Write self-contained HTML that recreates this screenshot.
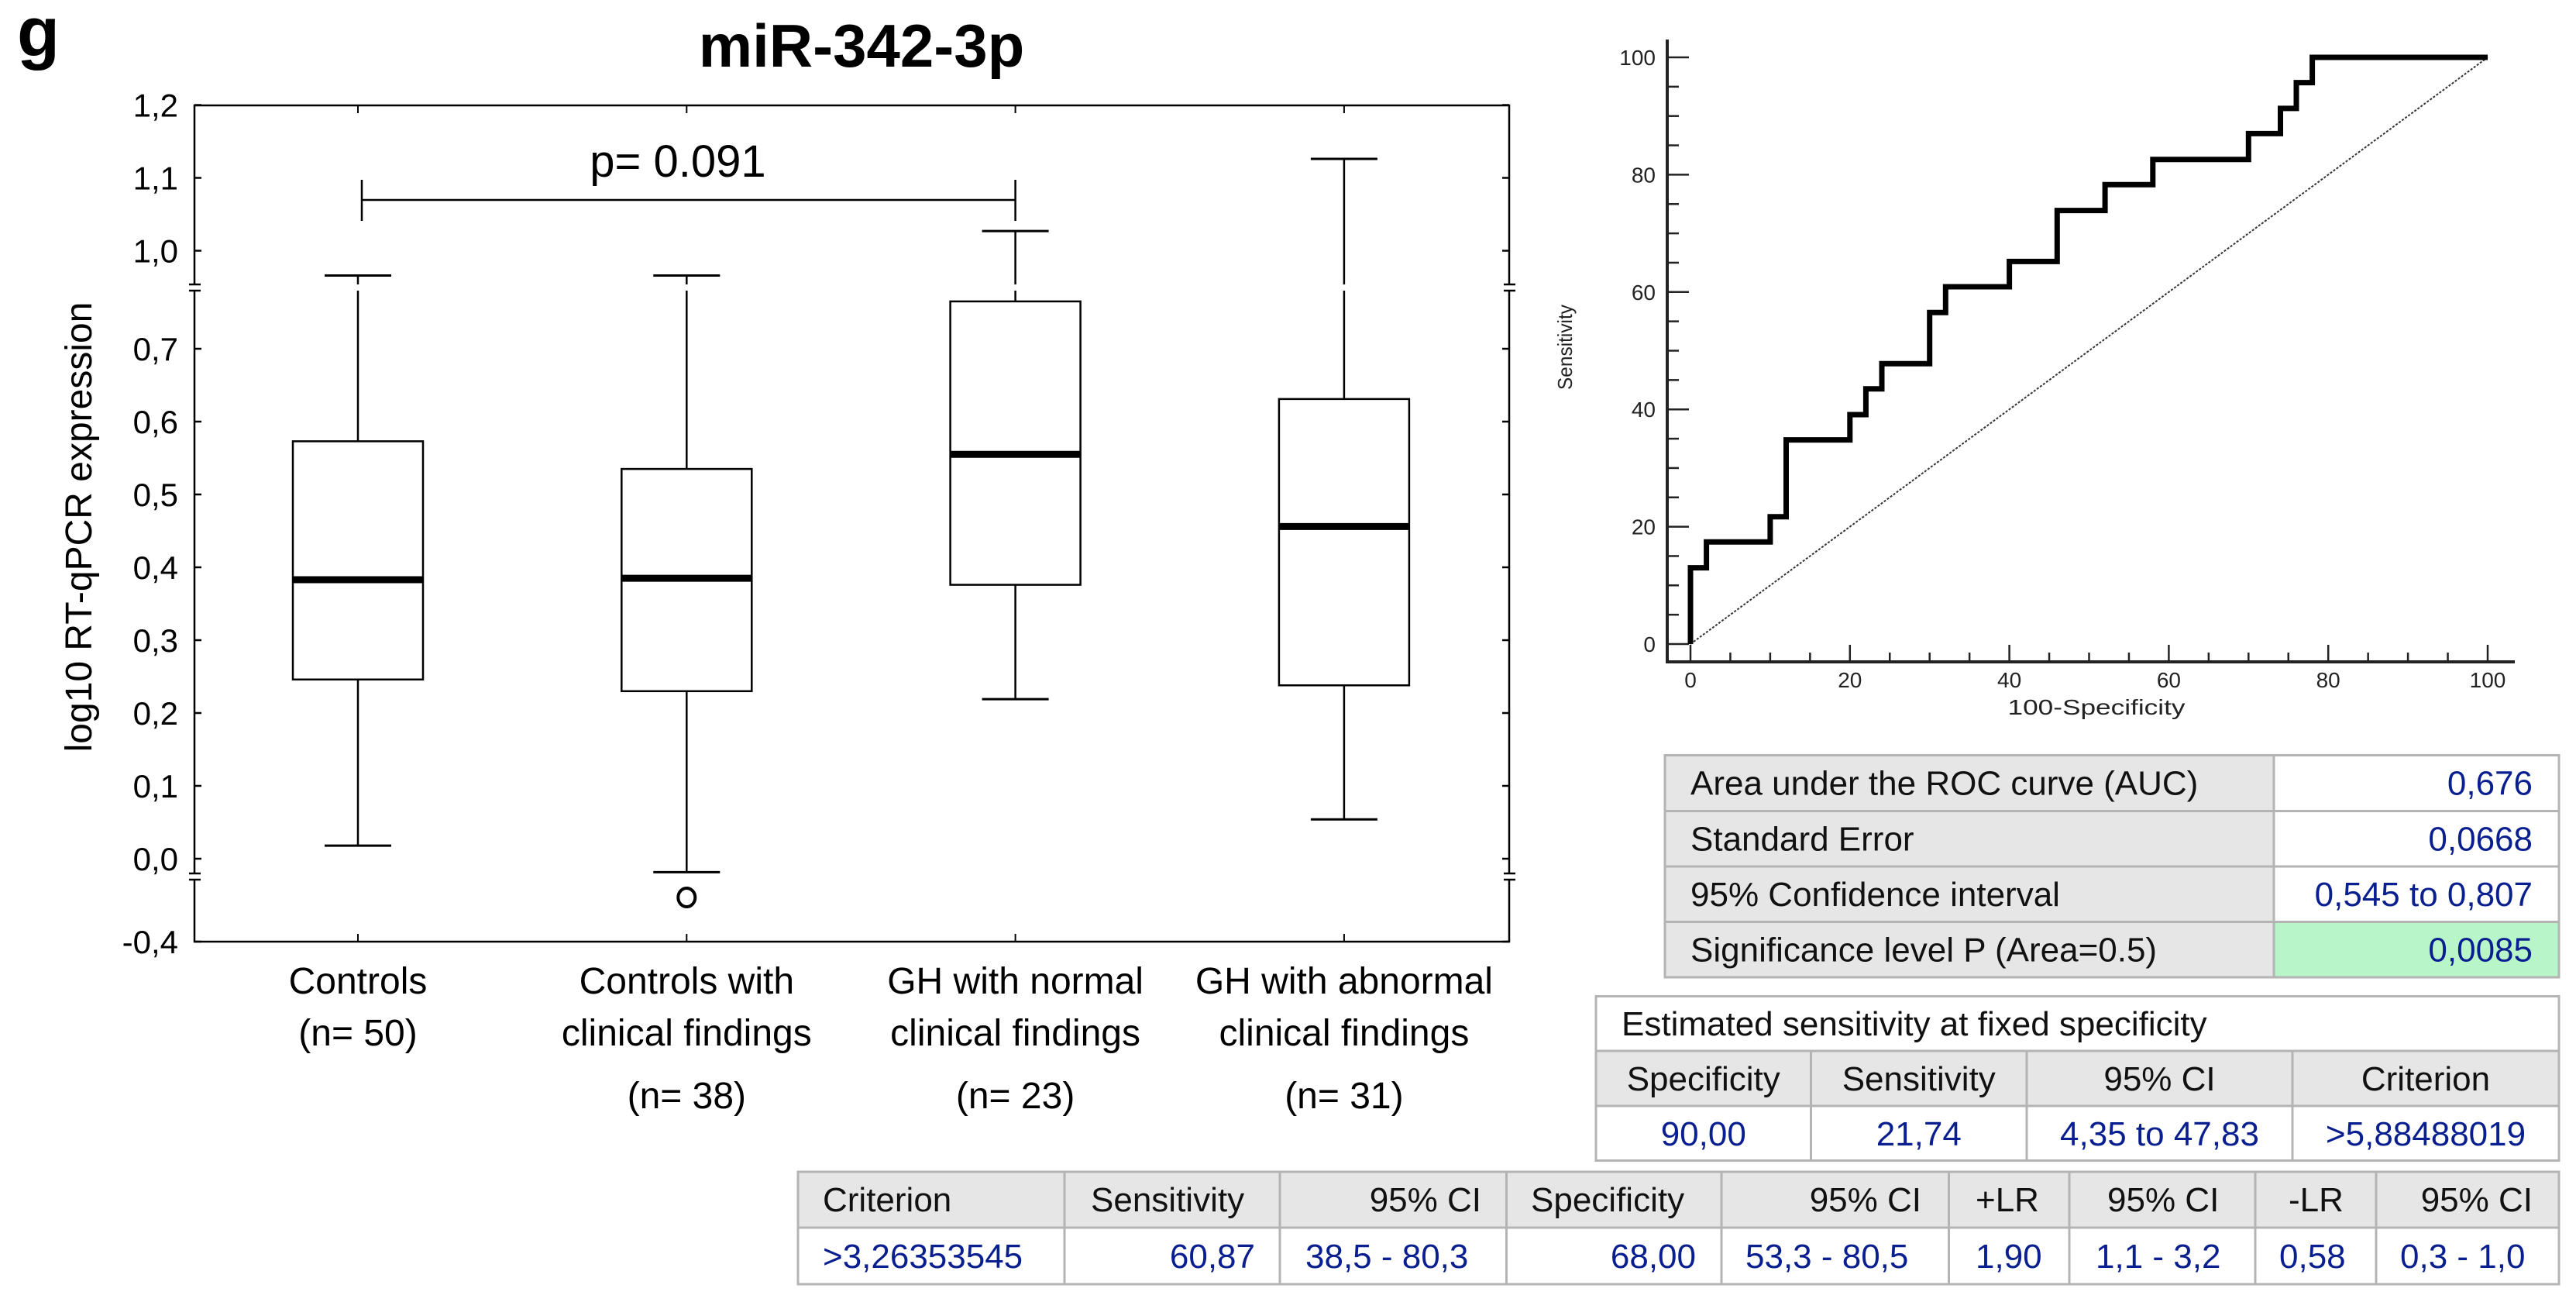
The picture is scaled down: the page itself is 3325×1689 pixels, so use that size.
<!DOCTYPE html>
<html><head><meta charset="utf-8"><style>
html,body{margin:0;padding:0;background:#fff;}
svg{display:block;font-family:"Liberation Sans",sans-serif;}
</style></head><body>
<svg id="fig" width="3325" height="1689" viewBox="0 0 3325 1689" xmlns="http://www.w3.org/2000/svg">
<rect x="0" y="0" width="3325" height="1689" fill="#fff"/>
<text x="22" y="72" font-size="90" font-weight="bold">g</text>
<text x="1112" y="86" font-size="78" font-weight="bold" text-anchor="middle">miR-342-3p</text>
<g id="box"></g>
<g id="roc"></g>
<g id="tables"></g>
</svg>
<script>
const NS='http://www.w3.org/2000/svg';
// ---- box plot data ----
const categories=[["Controls","(n= 50)"],["Controls with","clinical findings","(n= 38)"],["GH with normal","clinical findings","(n= 23)"],["GH with abnormal","clinical findings","(n= 31)"]];
const whiskerLow=[0.018,-0.065,0.219,0.054];
const q1=[0.246,0.230,0.376,0.238];
const medians=[0.383,0.385,0.555,0.456];
const q3=[0.573,0.535,0.765,0.631];
const whiskerHigh=[0.966,0.966,1.027,1.126];
const outliers=[[],[-0.187],[],[]];
const yTickValues=[-0.4,0,0.1,0.2,0.3,0.4,0.5,0.6,0.7,1.0,1.1,1.2];
const yTickLabels=["-0,4","0,0","0,1","0,2","0,3","0,4","0,5","0,6","0,7","1,0","1,1","1,2"];
const pValueLabel="p= 0.091";
// ---- ROC data ----
const rocFpr=[0,0,2,2,10,10,12,12,20,20,22,22,24,24,30,30,32,32,40,40,46,46,52,52,58,58,70,70,74,74,76,76,78,78,100];
const rocTpr=[0,13,13,17.4,17.4,21.7,21.7,34.8,34.8,39.1,39.1,43.5,43.5,47.8,47.8,56.5,56.5,60.9,60.9,65.2,65.2,73.9,73.9,78.3,78.3,82.6,82.6,87,87,91.3,91.3,95.7,95.7,100,100];
const rocTicks=[0,20,40,60,80,100];

function el(parent,tag,attrs,text){const e=document.createElementNS(NS,tag);for(const k in attrs)e.setAttribute(k,attrs[k]);if(text!==undefined)e.textContent=text;parent.appendChild(e);return e;}

// ---- box plot ----
const box=document.getElementById('box');
const L=251,R=1948,T=136,B=1215;
function yv(v){ if(v<=0) return 1108+(-v)/0.4*107; if(v<=0.784) return 1108-v*940; if(v>=0.9495) return 323.5-(v-1.0)*940; return 371; }
function xc(i){ return 462+i*424.3; }
const frame=el(box,'rect',{x:L,y:T,width:R-L,height:B-T,fill:'none',stroke:'#000','stroke-width':2.5});


yTickValues.forEach((v,i)=>{
  const y=yv(v);
  const t1=el(box,'line',{x1:L,x2:L+9,y1:y,y2:y,stroke:'#000','stroke-width':2.5});
  
  
  el(box,'line',{x1:R-9,x2:R,y1:y,y2:y,stroke:'#000','stroke-width':2.5});
  const lb=el(box,'text',{x:230,y:y+15,'font-size':42,'text-anchor':'end'},yTickLabels[i]);
  
  
});
// axis breaks
[371,1131].forEach(y=>{[L,R].forEach(x=>{
  el(box,'rect',{x:x-8,y:y-3,width:16,height:6,fill:'#fff'});
  const b1=el(box,'line',{x1:x-7,x2:x+8,y1:y-4,y2:y-4,stroke:'#000','stroke-width':2.5});
  
  
  el(box,'line',{x1:x-7,x2:x+8,y1:y+4,y2:y+4,stroke:'#000','stroke-width':2.5});
});});
const yt=el(box,'text',{x:0,y:0,'font-size':48,'text-anchor':'middle',transform:'translate(118,680) rotate(-90)'},'log10 RT-qPCR expression');


categories.forEach((lines,i)=>{
  const x=xc(i);
  el(box,'line',{x1:x,x2:x,y1:B,y2:B-10,stroke:'#000','stroke-width':2});
  el(box,'line',{x1:x,x2:x,y1:T,y2:T+10,stroke:'#000','stroke-width':2});
  const g=el(box,'g',{});
  
  
  const hw=84,cw=43;
  const yHi=yv(whiskerHigh[i]),yLo=yv(whiskerLow[i]),y3=yv(q3[i]),y1=yv(q1[i]),ym=yv(medians[i]);
  el(g,'line',{x1:x,x2:x,y1:yHi,y2:y3,stroke:'#000','stroke-width':2.5});
  if(yHi<371&&y3>371) el(g,'rect',{x:x-3,y:367,width:6,height:8,fill:'#fff'});
  el(g,'line',{x1:x-cw,x2:x+cw,y1:yHi,y2:yHi,stroke:'#000','stroke-width':3});
  el(g,'line',{x1:x,x2:x,y1:y1,y2:yLo,stroke:'#000','stroke-width':2.5});
  el(g,'line',{x1:x-cw,x2:x+cw,y1:yLo,y2:yLo,stroke:'#000','stroke-width':3});
  el(g,'rect',{x:x-hw,y:y3,width:2*hw,height:y1-y3,fill:'#fff',stroke:'#000','stroke-width':2.5});
  el(g,'line',{x1:x-hw,x2:x+hw,y1:ym,y2:ym,stroke:'#000','stroke-width':9});
  outliers[i].forEach(o=>{
    const c=el(g,'ellipse',{cx:x,cy:yv(o),rx:11,ry:12,fill:'none',stroke:'#000','stroke-width':4});
    
    
  });
  const lys=lines.length===2?[1282,1349]:[1282,1349,1430];
  lines.forEach((s,j)=>{
    const t=el(box,'text',{x:x,y:lys[j],'font-size':48,'text-anchor':'middle'},s);
    
    
  });
});
// significance bracket
const br=el(box,'path',{d:`M${xc(0)+5},232 V285 M${xc(0)+5},258 H${xc(2)} M${xc(2)},232 V285`,fill:'none',stroke:'#000','stroke-width':2.5});


const pl=el(box,'text',{x:875,y:228,'font-size':58,'text-anchor':'middle'},pValueLabel);



// ---- ROC ----
const roc=document.getElementById('roc');
function xr(v){return 2182+v*10.29;}
function yr(v){return 831-v*7.57;}
el(roc,'line',{x1:2152,x2:2152,y1:51,y2:856,stroke:'#222','stroke-width':4});
el(roc,'line',{x1:2150,x2:3246,y1:854,y2:854,stroke:'#222','stroke-width':4});
for(let v=0;v<=100;v+=5){
  const major=v%20===0;
  el(roc,'line',{x1:2152,x2:major?2180:2167,y1:yr(v),y2:yr(v),stroke:'#222','stroke-width':2.5});
  el(roc,'line',{x1:xr(v),x2:xr(v),y1:854,y2:major?832:842,stroke:'#222','stroke-width':2.5});
}
rocTicks.forEach(v=>{
  const a=el(roc,'text',{x:2137,y:yr(v)+10,'font-size':28,'text-anchor':'end',fill:'#222'},String(v));
  
  
  const b=el(roc,'text',{x:xr(v),y:887,'font-size':28,'text-anchor':'middle',fill:'#222'},String(v));
  
  
});
const rx=el(roc,'text',{x:2706,y:922,'font-size':28,'text-anchor':'middle',fill:'#222',textLength:229,lengthAdjust:'spacingAndGlyphs'},'100-Specificity');


const ry=el(roc,'text',{x:0,y:0,'font-size':26,'text-anchor':'middle',fill:'#222',textLength:110,lengthAdjust:'spacingAndGlyphs',transform:'translate(2029,448) rotate(-90)'},'Sensitivity');


const diag=el(roc,'line',{x1:xr(0),y1:yr(0),x2:xr(100),y2:yr(100),stroke:'#333','stroke-width':2,'stroke-dasharray':'3,2'});


let d='';rocFpr.forEach((f,i)=>{d+=(i?'L':'M')+xr(f).toFixed(1)+','+yr(rocTpr[i]).toFixed(1);});
const curve=el(roc,'path',{d:d,fill:'none',stroke:'#000','stroke-width':7,'stroke-linejoin':'miter'});



// ---- tables ----
const tb=document.getElementById('tables');
const GRAY='#e6e6e6',BORD='#b4b4b4',BLUE='#0a1f8f';
function cell(x,y,w,h,fill){el(tb,'rect',{x:x,y:y,width:w,height:h,fill:fill,stroke:BORD,'stroke-width':3});}
function txt(x,y,s,anchor,color,name){const t=el(tb,'text',{x:x,y:y,'font-size':44,'text-anchor':anchor,fill:color},s);}
// table 1
const t1rows=[["Area under the ROC curve (AUC)","0,676"],["Standard Error","0,0668"],["95% Confidence interval","0,545 to 0,807"],["Significance level P (Area=0.5)","0,0085"]];
const t1y=[974.5,1046.5,1118,1189.5,1261];
t1rows.forEach((r,i)=>{
  const y=t1y[i],h=t1y[i+1]-y;
  cell(2149,y,786,h,GRAY);
  cell(2935,y,368,h,i===3?'#b8f5c8':'#fff');
  txt(2182,y+h/2+15,r[0],'start','#111','auc-table-label');
  txt(3269,y+h/2+15,r[1],'end',BLUE,'auc-table-value');
});
// table 2
cell(2060,1285.5,1243,70.5,'#fff');
txt(2093,1336,'Estimated sensitivity at fixed specificity','start','#111','fixed-specificity-title');
const t2cx=[2060,2337.5,2616,2959,3303];
const t2h=["Specificity","Sensitivity","95% CI","Criterion"];
const t2v=["90,00","21,74","4,35 to 47,83",">5,88488019"];
for(let i=0;i<4;i++){
  const x=t2cx[i],w=t2cx[i+1]-x;
  cell(x,1356,w,71,GRAY);
  cell(x,1427,w,70.5,'#fff');
  txt(x+w/2,1407,t2h[i],'middle','#111','fixed-specificity-header');
  txt(x+w/2,1478,t2v[i],'middle',BLUE,'fixed-specificity-value');
}
// table 3
const t3cx=[1030,1374,1652,1944.5,2222,2515.5,2671,2911,3067,3303];
for(let i=0;i<9;i++){const x=t3cx[i],w=t3cx[i+1]-x;cell(x,1512,w,72,GRAY);cell(x,1584,w,73,'#fff');}
const t3h=[["Criterion",1062,'start'],["Sensitivity",1408,'start'],["95% CI",1912,'end'],["Specificity",1976,'start'],["95% CI",2480,'end'],["+LR",2550,'start'],["95% CI",2720,'start'],["-LR",2954,'start'],["95% CI",3269,'end']];
const t3v=[[">3,26353545",1062,'start'],["60,87",1620,'end'],["38,5 - 80,3",1685,'start'],["68,00",2189,'end'],["53,3 - 80,5",2253,'start'],["1,90",2550,'start'],["1,1 - 3,2",2705,'start'],["0,58",2942,'start'],["0,3 - 1,0",3098,'start']];
t3h.forEach(h=>txt(h[1],1563,h[0],h[2],'#111','criterion-table-header'));
t3v.forEach(v=>txt(v[1],1636,v[0],v[2],BLUE,'criterion-table-value'));
</script>
</body></html>
